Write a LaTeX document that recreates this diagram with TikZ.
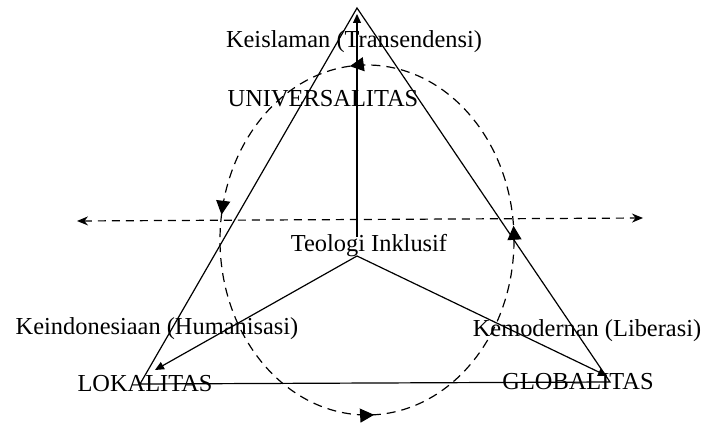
\documentclass[tikz,border=0pt]{standalone}
\usepackage{fontspec}
\setmainfont{Liberation Serif}
\usepackage{tikz}
\usetikzlibrary{arrows.meta,decorations.markings}

\begin{document}
\begin{tikzpicture}[x=0.5pt, y=0.5pt, line width=0.6pt, every node/.style={font=\fontsize{12.2}{14}\selectfont, inner sep=0pt, text height=0.7em, text depth=0.22em}]
  \useasboundingbox (0,0) rectangle (705,-426);
  % corners and helper points
  \coordinate (apex) at (357,-8);
  \coordinate (bl) at (140,-384);
  \coordinate (br) at (610,-382);
  \coordinate (west) at (77,-221);
  \coordinate (east) at (643,-218);
  \coordinate (hub) at (357,-256);
  \coordinate (tipl) at (155,-370);
  \coordinate (tipr) at (607,-376);
  \coordinate (cen) at (367,-240);
  % labels
  \node (trans) at (354,-43) {Keislaman (Transendensi)};
  \node (univ) at (323,-102) {UNIVERSALITAS};
  \node (teo) at (369,-247) {Teologi Inklusif};
  \node (human) at (157,-330) {Keindonesiaan (Humanisasi)};
  \node (liber) at (587,-332) {Kemodernan (Liberasi)};
  \node (lokal) at (145,-387) {LOKALITAS};
  \node (global) at (578,-385) {GLOBALITAS};
  % triangle, axis and cycle
  \draw (apex) -- (bl) -- (br) -- cycle;
  \draw[dash pattern=on 4pt off 3pt, {Stealth[length=5.5pt,width=4.5pt]}-{Stealth[length=5.5pt,width=4.5pt]}] (west) -- (east);
  \draw[dash pattern=on 4.5pt off 3pt, postaction={decorate}, decoration={markings,
      mark=at position 0.014 with {\arrow{Triangle[length=7pt,width=7pt]}},
      mark=at position 0.267 with {\arrow{Triangle[length=7pt,width=7pt]}},
      mark=at position 0.475 with {\arrow{Triangle[length=7pt,width=7pt]}},
      mark=at position 0.757 with {\arrow{Triangle[length=7pt,width=7pt]}}}]
    (cen) ellipse [x radius=147, y radius=175];
  % spokes
  \draw[-{Triangle[length=4.5pt,width=4pt]}] (teo.north -| apex) -- ([yshift=-3pt]apex);
  \foreach \tip in {tipl,tipr} \draw[-{Triangle[length=4.5pt,width=4pt]}] (hub) -- (\tip);
\end{tikzpicture}
\end{document}
